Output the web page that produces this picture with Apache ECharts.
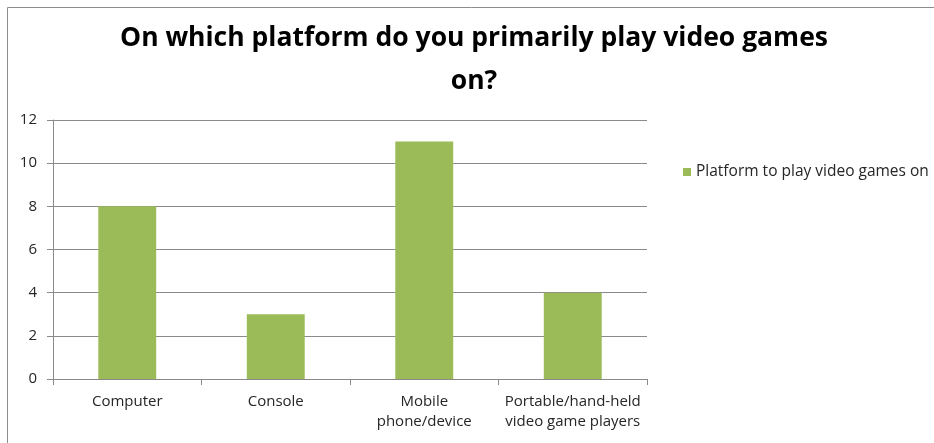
<!DOCTYPE html>
<html>
<head>
<meta charset="utf-8">
<script src="https://cdn.jsdelivr.net/npm/echarts@6/dist/echarts.min.js"></script>
<style>
  html, body { margin: 0; padding: 0; background: #ffffff; }
  #chart { width: 934px; height: 443px; }
</style>
</head>
<body>
<div id="chart"></div>
<script>
// Survey answers: primary platform for playing video games
const categories = [
  'Computer',
  'Console',
  'Mobile\nphone/device',
  'Portable/hand-held\nvideo game players'
];
const seriesName = 'Platform to play video games on';
const responses = [8, 3, 11, 4];
const yTicks = { min: 0, max: 12, interval: 2 };

const FONT = 'Open Sans, Lato, sans-serif';
const GRID_COLOR = '#8a8a8a';
const TEXT_COLOR = '#262626';

const chart = echarts.init(document.getElementById('chart'), null, { renderer: 'canvas' });

chart.setOption({
  backgroundColor: '#ffffff',
  animation: false,
  graphic: [{
    type: 'rect',
    shape: { x: 7.5, y: 7.5, width: 1000, height: 1000 },
    style: { fill: 'none', stroke: '#8c8c8c', lineWidth: 1 },
    silent: true,
    z: -10
  }],
  title: {
    text: 'On which platform do you primarily play video games\non?',
    left: 469,
    top: 12,
    textAlign: 'center',
    textStyle: {
      fontFamily: FONT,
      fontSize: 26.5,
      fontWeight: 'bold',
      color: '#000000',
      lineHeight: 43
    }
  },
  legend: {
    data: [seriesName],
    left: 678,
    top: 159,
    icon: 'rect',
    itemWidth: 8,
    itemHeight: 8,
    textStyle: { fontFamily: FONT, fontSize: 15.5, color: TEXT_COLOR }
  },
  grid: { left: 53, right: 287, top: 120, bottom: 64, containLabel: false },
  xAxis: {
    type: 'category',
    data: categories,
    axisLine: { show: true, lineStyle: { color: GRID_COLOR } },
    axisTick: { show: true, length: 6, interval: 0, lineStyle: { color: GRID_COLOR } },
    axisLabel: {
      interval: 0,
      margin: 13,
      fontFamily: FONT,
      fontSize: 15,
      lineHeight: 20,
      color: TEXT_COLOR
    }
  },
  yAxis: {
    type: 'value',
    min: yTicks.min,
    max: yTicks.max,
    interval: yTicks.interval,
    axisLine: { show: true, lineStyle: { color: GRID_COLOR } },
    axisTick: { show: true, length: 6, lineStyle: { color: GRID_COLOR } },
    splitLine: { show: true, lineStyle: { color: GRID_COLOR } },
    axisLabel: {
      margin: 16,
      fontFamily: FONT,
      fontSize: 15,
      color: TEXT_COLOR
    }
  },
  series: [{
    name: seriesName,
    type: 'bar',
    data: responses,
    barWidth: '39%',
    itemStyle: { color: '#9bbb59' }
  }]
});
</script>
</body>
</html>
